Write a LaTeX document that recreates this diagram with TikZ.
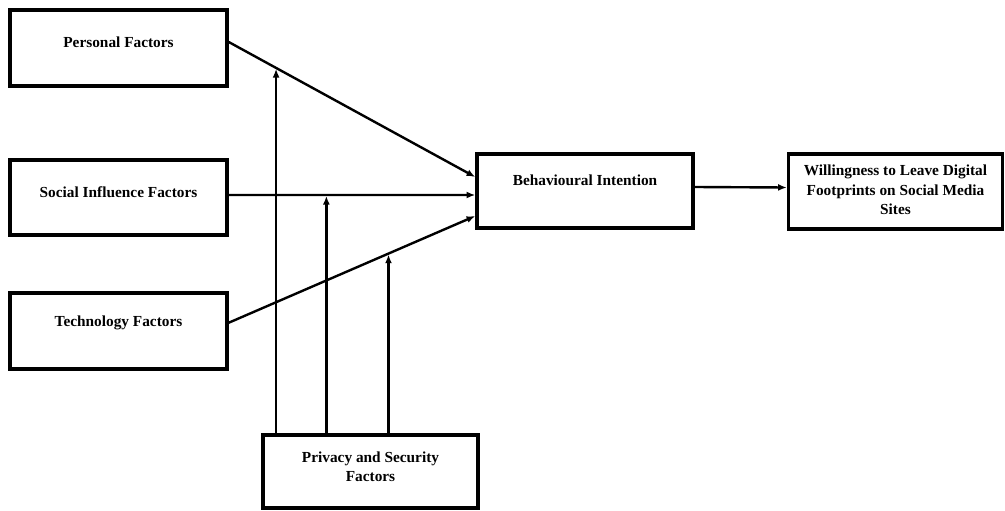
\documentclass[tikz,border=0pt]{standalone}
\usepackage{fontspec}
\setmainfont{Liberation Serif}
\usetikzlibrary{arrows.meta,calc}
\begin{document}
\begin{tikzpicture}[x=0.75pt,y=-0.75pt,
  box/.style={draw,line width=2.6pt,inner sep=0pt},
  lbl/.style={font=\fontsize{11.5}{14.6}\selectfont\bfseries,align=center,inner sep=0pt},
  conn/.style={line width=1.8pt,-{Latex[length=6.5pt,width=5.2pt]}}]
\useasboundingbox (0,0) rectangle (1005,510);
% boxes
\node[box,minimum width=162.75pt,minimum height=57pt] (pers) at (118.5,48) {};
\node[box,minimum width=162.75pt,minimum height=56.25pt] (soc) at (118.5,197.5) {};
\node[box,minimum width=162.75pt,minimum height=57pt] (tech) at (118.5,331) {};
\node[box,minimum width=162pt,minimum height=55.5pt] (bi) at (585,191) {};
\node[box,minimum width=160.5pt,minimum height=56.25pt] (will) at (895.5,191.5) {};
\node[box,minimum width=161.25pt,minimum height=54.75pt] (priv) at (370.5,471.5) {};
% labels
\node[lbl] (tpers) at (118.5,42) {Personal Factors};
\node[lbl] (tsoc) at (118.5,192) {Social Influence Factors};
\node[lbl] (ttech) at (118.5,323) {Technology Factors};
\node[lbl] (tbi) at (585,180) {Behavioural Intention};
\node[lbl] (twill) at (895.5,190) {Willingness to Leave Digital\\Footprints on Social Media\\Sites};
\node[lbl] (tpriv) at (370.5,467) {Privacy and Security\\Factors};
% main connectors
\coordinate (ps) at ([yshift=4.5pt]pers.east);
\coordinate (pe) at ([yshift=10.5pt]bi.west);
\coordinate (ss) at ([yshift=1.9pt]soc.east);
\coordinate (se) at ([yshift=-3pt]bi.west);
\coordinate (ts) at ([yshift=6.2pt]tech.east);
\coordinate (te) at ([yshift=-18.75pt]bi.west);
\draw[conn] (ps) -- (pe);
\draw[conn] (ss) -- (se);
\draw[conn] (ts) -- (te);
\draw[conn] ([yshift=3pt]bi.east) -- ([yshift=3pt]will.west);
% moderator connectors
\coordinate (m1) at ($(ps)!0.192!(pe)$);
\coordinate (m2) at ($(ss)!0.396!(se)$);
\coordinate (m3) at ($(ts)!0.648!(te)$);
\draw[conn] (m1 |- priv.north) -- ([yshift=-0.7pt]m1);
\draw[conn] (m2 |- priv.north) -- ([yshift=-0.7pt]m2);
\draw[conn] (m3 |- priv.north) -- ([yshift=-0.7pt]m3);
\end{tikzpicture}
\end{document}
